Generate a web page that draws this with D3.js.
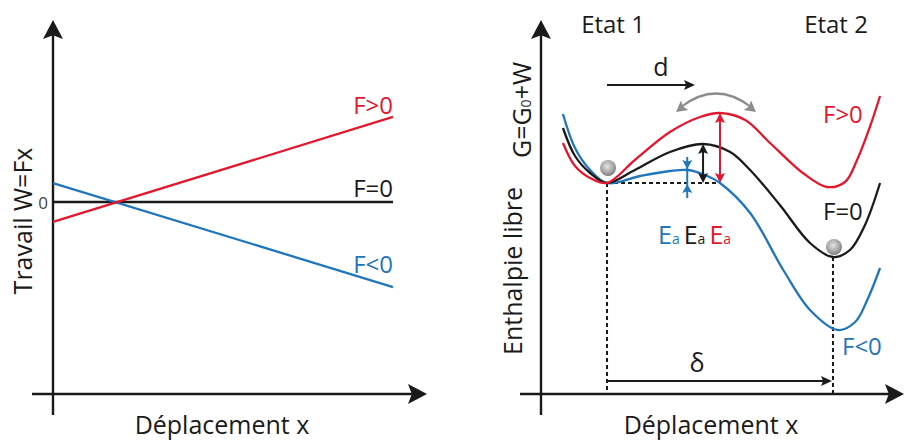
<!DOCTYPE html>
<html lang="fr">
  <head>
    <meta charset="UTF-8" />
    <title>Travail et enthalpie libre</title>
    <script src="https://d3js.org/d3.v7.min.js"></script>
    <style>
      body {
        margin: 0;
        background: #fff;
      }
      svg {
        display: block;
        font-family: "Open Sans", Arial, sans-serif;
      }
      .axis-line {
        stroke: #1a1a1a;
        stroke-width: 2.4px;
      }
      .curve {
        fill: none;
        stroke-width: 2.3px;
      }
      .dash {
        stroke: #1a1a1a;
        stroke-width: 2px;
        stroke-dasharray: 4, 3;
      }
    </style>
  </head>
  <body>
    <svg id="chart" width="904" height="441"></svg>

    <script>
      // -------------------------------------------------------------------
      // DONNEES
      // -------------------------------------------------------------------

      // Panneau gauche : travail W = Fx (valeurs aux deux extremites)
      const workX = [0, 10];
      const workPos = [-1.9, 8.1]; // F>0
      const workZero = [0, 0]; // F=0
      const workNeg = [1.8, -8.1]; // F<0

      // Panneau droit : enthalpie libre G = G0 + W
      const enthalpyZero = [
        [0.83, 12.75], [1.15, 11.35], [1.55, 10.5], [2.0, 10.0], [2.74, 10.65],
        [3.67, 11.55], [4.55, 11.95], [5.27, 11.55], [5.8, 10.65], [6.59, 8.9],
        [7.39, 7.0], [8.0, 6.3], [8.45, 6.65], [8.85, 7.9], [9.25, 10.0],
      ];
      const enthalpyPos = [
        [0.83, 12.0], [1.15, 10.85], [1.55, 10.25], [2.0, 10.0], [2.74, 11.15],
        [3.67, 12.55], [4.47, 13.3], [5.0, 13.5], [5.67, 13.15], [6.33, 12.0],
        [7.2, 10.5], [7.84, 9.8], [8.32, 10.05], [8.64, 11.15], [8.98, 12.8],
        [9.25, 14.35],
      ];
      const enthalpyNeg = [
        [0.83, 13.45], [1.15, 11.75], [1.55, 10.65], [2.0, 10.0], [2.88, 10.35],
        [3.67, 10.6], [4.15, 10.65], [4.6, 10.4], [5.0, 10.0], [5.8, 8.5],
        [6.68, 5.65], [7.39, 3.65], [8.13, 2.65], [8.59, 3.05], [8.91, 4.15],
        [9.25, 5.75],
      ];

      // Etats et barrieres d'activation
      const stateLabels = ["Etat 1", "Etat 2"];
      const stateX = [2.0, 8.0];
      const stateY = [10.0, 6.3];
      const barrierX = [4.13, 4.55, 5.0]; // F<0, F=0, F>0
      const barrierTop = [10.65, 11.95, 13.5];
      const baseLevel = 10.0;

      const forceLabels = ["F>0", "F=0", "F<0"];
      const colors = ["#e3172d", "#1a1a1a", "#1f76bc"];

      // -------------------------------------------------------------------
      // MISE EN PLACE
      // -------------------------------------------------------------------
      const svg = d3.select("#chart");
      const axisY = 394;

      const defs = svg.append("defs");
      const grad = defs
        .append("radialGradient")
        .attr("id", "ball")
        .attr("cx", "45%")
        .attr("cy", "40%")
        .attr("r", "60%");
      grad.append("stop").attr("offset", "0%").attr("stop-color", "#e4e4e4");
      grad.append("stop").attr("offset", "65%").attr("stop-color", "#a6a6a6");
      grad.append("stop").attr("offset", "100%").attr("stop-color", "#7c7c7c");

      // Pointe de fleche (triangle) orientee selon un angle
      function arrowHead(g, x, y, angle, len, half, color) {
        g.append("path")
          .attr("d", `M0,0 L${-len},${-half} L${-len * 0.8},0 L${-len},${half} Z`)
          .attr("transform", `translate(${x},${y}) rotate(${angle})`)
          .attr("fill", color);
      }

      function axes(x0, xStart, xEnd) {
        svg.append("line").attr("class", "axis-line")
          .attr("x1", x0).attr("x2", x0).attr("y1", 415).attr("y2", 34);
        arrowHead(svg, x0, 20, -90, 19, 10, "#1a1a1a");
        svg.append("line").attr("class", "axis-line")
          .attr("x1", xStart).attr("x2", xEnd - 14).attr("y1", axisY).attr("y2", axisY);
        arrowHead(svg, xEnd, axisY, 0, 19, 10, "#1a1a1a");
      }

      // -------------------------------------------------------------------
      // PANNEAU GAUCHE
      // -------------------------------------------------------------------
      const xL = d3.scaleLinear().domain([0, 10]).range([53, 393]);
      const yL = d3.scaleLinear().domain([0, 10]).range([202, 97]);

      axes(53, 32, 427);

      const workSeries = [workPos, workZero, workNeg];
      const lineL = d3.line().x((d) => xL(d[0])).y((d) => yL(d[1]));
      const labelDyL = [-3, -5, -14];

      // F=0 dessinee d'abord, puis bleu, puis rouge au-dessus
      [1, 2, 0].forEach((i) => {
        const pts = workX.map((x, j) => [x, workSeries[i][j]]);
        svg.append("path")
          .datum(pts)
          .attr("class", "curve")
          .attr("stroke", colors[i])
          .attr("d", lineL);
        svg.append("text")
          .attr("x", xL(workX[1]))
          .attr("y", yL(workSeries[i][1]) + labelDyL[i])
          .attr("text-anchor", "end")
          .attr("font-size", 24)
          .attr("fill", colors[i])
          .text(forceLabels[i]);
      });

      svg.append("text")
        .attr("x", 43).attr("y", yL(0) + 7)
        .attr("text-anchor", "middle")
        .attr("font-size", 17)
        .attr("fill", "#444")
        .text("0");

      svg.append("text")
        .attr("transform", `translate(32,221) rotate(-90)`)
        .attr("text-anchor", "middle")
        .attr("font-size", 25)
        .attr("fill", "#1a1a1a")
        .text("Travail W=Fx");

      svg.append("text")
        .attr("x", 222).attr("y", 434)
        .attr("text-anchor", "middle")
        .attr("font-size", 25)
        .attr("fill", "#1a1a1a")
        .text("Déplacement x");

      // -------------------------------------------------------------------
      // PANNEAU DROIT
      // -------------------------------------------------------------------
      const xR = d3.scaleLinear().domain([0, 10]).range([531.7, 908.3]);
      const yR = d3.scaleLinear().domain([0, 10]).range([383, 183]);

      axes(541, 520, 904);

      // Pointilles verticaux et horizontal
      svg.append("line").attr("class", "dash")
        .attr("x1", xR(stateX[0])).attr("x2", xR(stateX[0]))
        .attr("y1", yR(stateY[0])).attr("y2", axisY);
      svg.append("line").attr("class", "dash")
        .attr("x1", xR(stateX[1])).attr("x2", xR(stateX[1]))
        .attr("y1", yR(stateY[1])).attr("y2", axisY);
      svg.append("line").attr("class", "dash")
        .attr("x1", xR(stateX[0])).attr("x2", xR(barrierX[2]))
        .attr("y1", yR(baseLevel)).attr("y2", yR(baseLevel));

      const lineR = d3.line()
        .x((d) => xR(d[0]))
        .y((d) => yR(d[1]))
        .curve(d3.curveCatmullRom.alpha(0.5));

      const enthalpySeries = [enthalpyPos, enthalpyZero, enthalpyNeg];
      [2, 1, 0].forEach((i) => {
        svg.append("path")
          .datum(enthalpySeries[i])
          .attr("class", "curve")
          .attr("stroke", colors[i])
          .attr("d", lineR);
      });

      // Billes aux minima
      svg.selectAll(".bille")
        .data(stateX)
        .join("circle")
        .attr("class", "bille")
        .attr("cx", (d) => xR(d) + 1)
        .attr("cy", (d, i) => yR(stateY[i]) - (i === 0 ? 15 : 10))
        .attr("r", 8)
        .attr("fill", "url(#ball)");

      // Fleches Ea
      // F>0 et F=0 : double fleche vers l'exterieur
      [0, 1].forEach((i) => {
        const x = xR(barrierX[2 - i]);
        const top = yR(barrierTop[2 - i]);
        const bot = yR(baseLevel);
        const c = colors[i];
        svg.append("line")
          .attr("x1", x).attr("x2", x)
          .attr("y1", top + 6).attr("y2", bot - 6)
          .attr("stroke", c).attr("stroke-width", 2);
        arrowHead(svg, x, top, -90, 10, 5, c);
        arrowHead(svg, x, bot, 90, 10, 5, c);
      });
      // F<0 : fleches vers l'interieur
      {
        const x = xR(barrierX[0]);
        const top = yR(barrierTop[0]);
        const bot = yR(baseLevel);
        svg.append("line")
          .attr("x1", x).attr("x2", x)
          .attr("y1", top - 13).attr("y2", bot + 15)
          .attr("stroke", colors[2]).attr("stroke-width", 2);
        arrowHead(svg, x, top - 1, 90, 9, 5, colors[2]);
        arrowHead(svg, x, bot + 1, -90, 9, 5, colors[2]);
      }

      // Etiquettes Ea
      const ea = svg.append("text")
        .attr("x", 658).attr("y", 244)
        .attr("font-size", 25);
      [2, 1, 0].forEach((i, k) => {
        ea.append("tspan")
          .attr("fill", colors[i])
          .attr("dx", k === 0 ? 0 : 4)
          .text("E");
        ea.append("tspan")
          .attr("fill", colors[i])
          .attr("font-size", 14)
          .text("a");
      });

      // Etiquettes des forces
      const labelPosR = [
        [823, 123],
        [823, 220],
        [842, 355],
      ];
      forceLabels.forEach((t, i) => {
        svg.append("text")
          .attr("x", labelPosR[i][0]).attr("y", labelPosR[i][1])
          .attr("font-size", 24)
          .attr("fill", colors[i])
          .text(t);
      });

      // Etats
      svg.selectAll(".etat")
        .data(stateLabels)
        .join("text")
        .attr("class", "etat")
        .attr("x", (d, i) => (i === 0 ? 613 : 836))
        .attr("y", 33)
        .attr("text-anchor", "middle")
        .attr("font-size", 24)
        .attr("fill", "#1a1a1a")
        .text((d) => d);

      // Fleche d
      svg.append("line")
        .attr("x1", xR(stateX[0])).attr("x2", 688)
        .attr("y1", 85).attr("y2", 85)
        .attr("stroke", "#1a1a1a").attr("stroke-width", 2);
      arrowHead(svg, 695, 85, 0, 11, 5, "#1a1a1a");
      svg.append("text")
        .attr("x", 661).attr("y", 76)
        .attr("text-anchor", "middle")
        .attr("font-size", 25)
        .attr("fill", "#1a1a1a")
        .text("d");

      // Fleche grise courbe (oscillation)
      svg.append("path")
        .attr("d", "M681,107 Q716,80 751,107")
        .attr("fill", "none")
        .attr("stroke", "#8c8c8c")
        .attr("stroke-width", 2.2);
      arrowHead(svg, 676, 112, 142, 11, 6, "#8c8c8c");
      arrowHead(svg, 756, 112, 38, 11, 6, "#8c8c8c");

      // Fleche delta
      const deltaY = yR(0.1);
      svg.append("line")
        .attr("x1", xR(stateX[0])).attr("x2", xR(stateX[1]) - 8)
        .attr("y1", deltaY).attr("y2", deltaY)
        .attr("stroke", "#1a1a1a").attr("stroke-width", 2);
      arrowHead(svg, xR(stateX[1]) - 1, deltaY, 0, 11, 5, "#1a1a1a");
      svg.append("text")
        .attr("x", 697).attr("y", 372)
        .attr("text-anchor", "middle")
        .attr("font-size", 25)
        .attr("fill", "#1a1a1a")
        .text("δ");

      // Titres d'axes
      svg.append("text")
        .attr("transform", `translate(522,271) rotate(-90)`)
        .attr("text-anchor", "middle")
        .attr("font-size", 25)
        .attr("fill", "#1a1a1a")
        .text("Enthalpie libre");

      const gTitle = svg.append("text")
        .attr("transform", `translate(531,110) rotate(-90)`)
        .attr("text-anchor", "middle")
        .attr("font-size", 25)
        .attr("fill", "#1a1a1a");
      gTitle.append("tspan").text("G=G");
      gTitle.append("tspan").attr("font-size", 14).text("0");
      gTitle.append("tspan").text("+W");

      svg.append("text")
        .attr("x", 711).attr("y", 434)
        .attr("text-anchor", "middle")
        .attr("font-size", 25)
        .attr("fill", "#1a1a1a")
        .text("Déplacement x");
    </script>
  </body>
</html>
